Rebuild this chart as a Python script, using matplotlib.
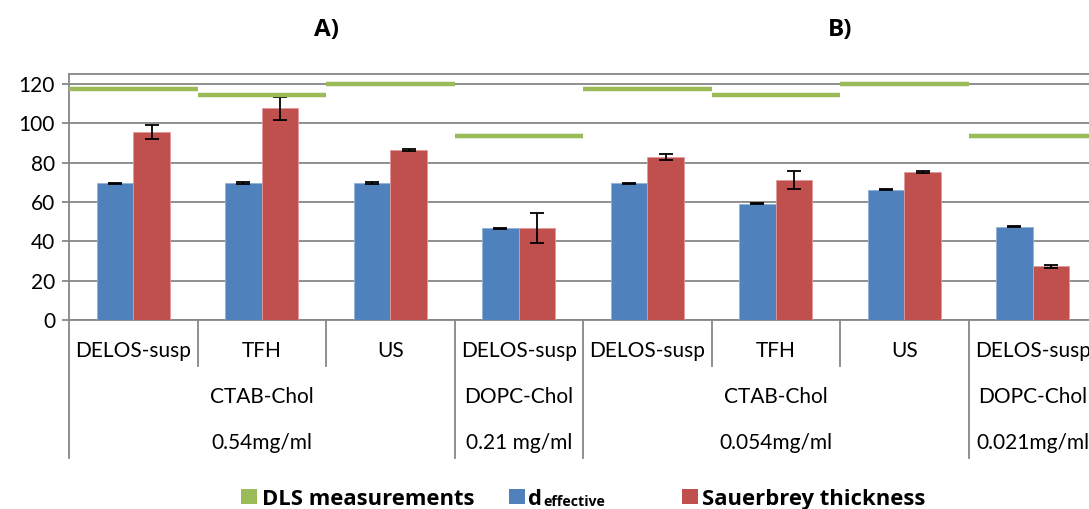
import matplotlib
matplotlib.use("Agg")
import matplotlib.pyplot as plt
from matplotlib.patches import Rectangle
import numpy as np

plt.rcParams['font.family'] = ['Lato', 'DejaVu Sans']

methods = ["DELOS-susp", "TFH", "US", "DELOS-susp", "DELOS-susp", "TFH", "US", "DELOS-susp"]
lipids = ["CTAB-Chol", "DOPC-Chol", "CTAB-Chol", "DOPC-Chol"]
lipid_pos = [1, 3, 5, 7]
concs = ["0.54mg/ml", "0.21 mg/ml", "0.054mg/ml", "0.021mg/ml"]
panel_titles = ["A)", "B)"]

d_effective = [69.5, 69.6, 69.6, 46.5, 69.4, 59.0, 66.2, 47.5]
d_eff_err = [0.3, 0.3, 0.3, 0.3, 0.3, 0.3, 0.3, 0.3]
sauerbrey = [95.5, 107.5, 86.2, 46.8, 83.0, 71.2, 75.0, 27.2]
sauer_err = [3.5, 6.0, 0.5, 7.5, 1.5, 4.5, 0.5, 1.0]
dls = [117.2, 114.4, 120.0, 93.6, 117.2, 114.4, 120.0, 93.6]
legend_labels = ["DLS measurements", "d", "Sauerbrey thickness"]

blue = "#4F81BD"
red = "#C0504D"
green = "#9BBB59"
grid_c = "#878787"
bold_family = ['Open Sans', 'DejaVu Sans']

W, H = 1089, 509
fig = plt.figure(figsize=(W / 100, H / 100), dpi=100)
left_px, right_px, top_px, bot_px = 69, 1097, 74, 320
ax = fig.add_axes([left_px / W, 1 - bot_px / H, (right_px - left_px) / W, (bot_px - top_px) / H])

x = np.arange(len(methods))
bw = 0.285
ax.bar(x - bw / 2, d_effective, bw, color=blue, edgecolor="#8FB0D8", linewidth=0.6,
       yerr=d_eff_err, error_kw=dict(ecolor="black", elinewidth=1.3, capsize=5, capthick=1.3), zorder=3)
ax.bar(x + bw / 2, sauerbrey, bw, color=red, edgecolor="#E09A98", linewidth=0.6,
       yerr=sauer_err, error_kw=dict(ecolor="black", elinewidth=1.3, capsize=5, capthick=1.3), zorder=3)
ax.hlines(dls, x - 0.5, x + 0.5, colors=green, linewidth=3.2, zorder=4)

ax.set_xlim(-0.5, len(methods) - 0.5)
ax.set_ylim(0, 125)
ax.set_yticks(np.arange(0, 121, 20))
ax.yaxis.grid(True, color=grid_c, linewidth=1.3, zorder=0)
ax.set_axisbelow(True)
for s in ["left", "bottom", "top"]:
    ax.spines[s].set_color(grid_c)
    ax.spines[s].set_linewidth(1.3)
ax.spines["right"].set_visible(False)
ax.tick_params(axis="y", colors=grid_c, length=5, width=1.3, labelsize=15, labelcolor="black", pad=5)
ax.set_xticks([])

tr = ax.get_xaxis_transform()
h = bot_px - top_px
def yfrac(py):
    return (bot_px - py) / h

fs = 15
for i, m in enumerate(methods):
    ax.text(i, yfrac(351), m, transform=tr, ha="center", va="center", fontsize=fs, clip_on=False)
for p, l in zip(lipid_pos, lipids):
    ax.text(p, yfrac(397), l, transform=tr, ha="center", va="center", fontsize=fs, clip_on=False)
for p, c in zip(lipid_pos, concs):
    ax.text(p, yfrac(443), c, transform=tr, ha="center", va="center", fontsize=fs, clip_on=False)

group_bounds = [-0.5, 2.5, 3.5, 6.5, 7.5]
sub_bounds = [0.5, 1.5, 4.5, 5.5]
for b in group_bounds:
    ax.plot([b, b], [0, yfrac(458)], transform=tr, color=grid_c, lw=1.3, clip_on=False)
for b in sub_bounds:
    ax.plot([b, b], [0, yfrac(366)], transform=tr, color=grid_c, lw=1.3, clip_on=False)

for p, t in zip([1.5, 5.5], panel_titles):
    ax.text(p, yfrac(30), t, transform=tr, ha="center", va="center", fontsize=17.5,
            fontweight="bold", family=bold_family, clip_on=False)

# legend drawn manually in figure pixel coordinates
def fx(px):
    return px / W
def fy(py):
    return 1 - py / H
leg_colors = [green, blue, red]
sq_left = [241, 509, 682]
for c, sl in zip(leg_colors, sq_left):
    fig.patches.append(Rectangle((fx(sl), fy(504)), 16 / W, 15 / H, transform=fig.transFigure,
                                 facecolor=c, edgecolor="none"))
lb = fy(505)
lfs = 15.8
fig.text(fx(262), lb, legend_labels[0], ha="left", va="baseline", fontsize=lfs, fontweight="bold", family=bold_family)
fig.text(fx(528), lb, legend_labels[1], ha="left", va="baseline", fontsize=lfs, fontweight="bold", family=bold_family)
fig.text(fx(543), fy(506), "effective", ha="left", va="baseline", fontsize=10.2, fontweight="bold", family=bold_family)
fig.text(fx(702), lb, legend_labels[2], ha="left", va="baseline", fontsize=lfs, fontweight="bold", family=bold_family)

fig.savefig("out.png", dpi=100)
